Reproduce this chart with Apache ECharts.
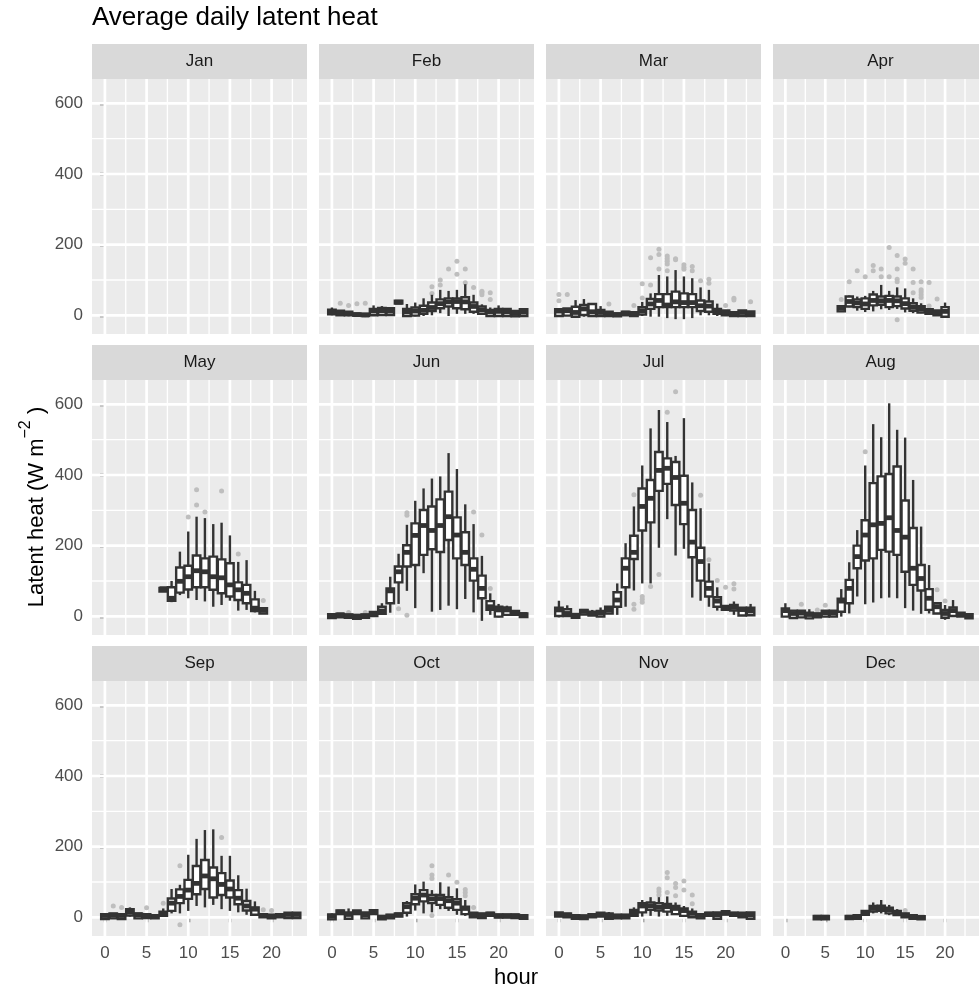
<!DOCTYPE html>
<html>
<head>
<meta charset="utf-8">
<script src="https://cdn.jsdelivr.net/npm/echarts@6/dist/echarts.min.js"></script>
<style>
  html, body { margin: 0; padding: 0; background: #ffffff; }
  #chart { width: 979px; height: 992px; }
</style>
</head>
<body>
<div id="chart"></div>
<script>
// Facet labels, axis breaks
const monthNames = ['Jan', 'Feb', 'Mar', 'Apr', 'May', 'Jun', 'Jul', 'Aug', 'Sep', 'Oct', 'Nov', 'Dec'];
const hourTicks = [0, 5, 10, 15, 20];
const hourMinor = [2.5, 7.5, 12.5, 17.5, 22.5];
const heatTicks = [0, 200, 400, 600];
const heatMinor = [100, 300, 500];

// Hourly box statistics per month: [hour, lower whisker, Q1, median, Q3, upper whisker]
const statsJan = [];
const statsFeb = [
  [0, 0, 3, 10, 16, 22], [1, -2, 0, 6, 13, 14], [2, -3, 0, 5, 10, 12], [3, -4, -1, 2, 5, 6],
  [4, -5, -2, 1, 4, 5], [5, -2, 0, 12, 18, 28], [6, -1, 1, 13, 21, 26], [7, 0, 1, 12, 20, 22],
  [8, 32, 33, 37, 41, 42], [9, -4, -2, 10, 18, 32], [10, -3, -1, 12, 22, 36], [11, -2, 4, 14, 27, 48],
  [12, 0, 12, 22, 36, 58], [13, 6, 20, 33, 45, 72], [14, -2, 25, 38, 48, 69], [15, 4, 20, 39, 48, 72],
  [16, 4, 17, 38, 51, 88], [17, 4, 10, 25, 36, 58], [18, 1, 4, 15, 25, 31], [19, -4, -2, 10, 15, 22],
  [20, -3, -2, 11, 18, 28], [21, -3, -2, 10, 18, 20], [22, -4, -3, 5, 12, 13], [23, -3, -2, 9, 17, 20]
];
const statsMar = [
  [0, -3, -2, 12, 17, 17], [1, -1, -1, 13, 19, 19], [2, -4, -4, 8, 24, 43], [3, -4, 1, 18, 29, 46],
  [4, -2, -2, 10, 32, 32], [5, -2, -2, 8, 15, 26], [6, -3, -2, 5, 10, 10], [7, -4, -3, 2, 5, 5],
  [8, 0, 0, 6, 10, 11], [9, -3, -2, 5, 9, 10], [10, -2, 2, 13, 23, 38], [11, -4, 18, 32, 46, 62],
  [12, -4, 23, 42, 60, 114], [13, -8, 23, 29, 60, 110], [14, -11, 23, 38, 67, 128], [15, -11, 23, 36, 62, 110],
  [16, -8, 23, 36, 60, 105], [17, 0, 12, 27, 42, 79], [18, 0, 10, 26, 39, 72], [19, -2, 4, 12, 18, 33],
  [20, -2, 0, 8, 14, 14], [21, -3, -2, 5, 9, 12], [22, -3, -2, 8, 14, 14], [23, -3, -2, 5, 11, 11]
];
const statsApr = [
  [7, 11, 11, 20, 26, 26], [8, 23, 25, 39, 53, 56], [9, 13, 23, 35, 45, 53], [10, 9, 18, 32, 48, 55],
  [11, 11, 28, 42, 59, 69], [12, 17, 30, 41, 53, 86], [13, 15, 23, 42, 55, 69], [14, 18, 26, 41, 53, 79],
  [15, 8, 19, 33, 48, 76], [16, 6, 13, 23, 34, 48], [17, 6, 8, 18, 26, 34], [18, 2, 4, 12, 17, 17],
  [19, -2, 0, 8, 14, 14], [20, -5, -4, 11, 23, 36]
];
const statsMay = [
  [7, 70, 70, 78, 80, 80], [8, 40, 44, 51, 82, 100], [9, 60, 67, 99, 138, 183], [10, 51, 76, 112, 143, 240],
  [11, 46, 82, 129, 172, 282], [12, 42, 82, 126, 164, 278], [13, 27, 75, 112, 169, 261], [14, 32, 65, 109, 161, 265],
  [15, 44, 56, 89, 150, 229], [16, 16, 46, 75, 96, 154], [17, 18, 37, 65, 89, 159], [18, 11, 15, 23, 48, 72],
  [19, 8, 8, 17, 23, 23]
];
const statsJun = [
  [0, -5, -5, 2, 6, 6], [1, -3, -3, 4, 7, 7], [2, -4, -4, 1, 5, 5], [3, -7, -7, 0, 4, 4],
  [4, -4, -4, 1, 5, 5], [5, 1, 1, 6, 12, 15], [6, 4, 7, 15, 27, 37], [7, 10, 37, 72, 79, 112],
  [8, 35, 96, 126, 141, 177], [9, 72, 141, 181, 201, 259], [10, 23, 145, 229, 263, 327], [11, 122, 174, 257, 301, 362],
  [12, 13, 190, 243, 311, 390], [13, 18, 182, 257, 331, 396], [14, 30, 216, 282, 353, 462], [15, 20, 164, 230, 280, 417],
  [16, 49, 145, 181, 238, 317], [17, 11, 101, 133, 164, 261], [18, -13, 51, 79, 115, 171], [19, 4, 18, 27, 43, 65],
  [20, -3, -1, 18, 27, 35], [21, 4, 4, 18, 25, 30], [22, 4, 4, 10, 15, 15], [23, -2, -2, 5, 8, 8]
];
const statsJul = [
  [0, -3, 1, 18, 24, 44], [1, 1, 1, 8, 20, 31], [2, -4, -4, 3, 6, 6], [3, 5, 5, 14, 18, 18],
  [4, 2, 2, 8, 13, 18], [5, -1, -1, 9, 15, 25], [6, 8, 8, 18, 27, 27], [7, 4, 27, 46, 68, 93],
  [8, 27, 82, 136, 164, 207], [9, 73, 162, 181, 228, 311], [10, 93, 243, 311, 362, 427], [11, 93, 266, 334, 386, 532],
  [12, 194, 355, 413, 465, 584], [13, 275, 375, 419, 447, 550], [14, 172, 315, 393, 437, 454], [15, 191, 261, 320, 398, 561],
  [16, 53, 167, 210, 301, 379], [17, 44, 101, 155, 194, 306], [18, 27, 56, 79, 98, 150], [19, 16, 27, 43, 54, 82],
  [20, 18, 18, 24, 29, 29], [21, 4, 16, 25, 32, 42], [22, 2, 2, 19, 24, 24], [23, 3, 3, 15, 24, 35]
];
const statsAug = [
  [0, -1, -1, 16, 22, 37], [1, -5, -5, 8, 16, 16], [2, -3, -3, 9, 16, 16], [3, -6, -6, 5, 10, 20],
  [4, -3, -3, 4, 8, 8], [5, -1, -1, 10, 16, 16], [6, -1, -1, 9, 16, 16], [7, -1, 13, 43, 50, 77],
  [8, 8, 37, 79, 103, 153], [9, 56, 136, 169, 200, 244], [10, 34, 158, 230, 272, 427], [11, 39, 164, 259, 377, 544],
  [12, 51, 188, 263, 396, 507], [13, 53, 183, 279, 403, 603], [14, 51, 174, 243, 424, 528], [15, 23, 126, 224, 328, 506],
  [16, 16, 89, 136, 250, 386], [17, 7, 73, 107, 145, 254], [18, 8, 18, 51, 77, 145], [19, 8, 8, 27, 37, 37],
  [20, -10, -4, 8, 18, 32], [21, 1, 1, 16, 25, 46], [22, -1, -1, 5, 10, 10], [23, -6, -6, 2, 6, 6]
];
const statsSep = [
  [0, -5, -5, 5, 9, 9], [1, -3, -3, 6, 11, 11], [2, -5, -5, 5, 9, 9], [3, 2, 5, 15, 23, 28],
  [4, -3, -3, 7, 11, 11], [5, -2, -2, 5, 9, 9], [6, -3, -3, 2, 6, 6], [7, 4, 4, 9, 16, 25],
  [8, 11, 18, 40, 53, 80], [9, 11, 40, 59, 79, 92], [10, 18, 52, 77, 106, 177], [11, 32, 65, 96, 145, 222],
  [12, 28, 80, 117, 162, 247], [13, 35, 56, 109, 141, 249], [14, 23, 63, 93, 125, 174], [15, 18, 56, 80, 104, 174],
  [16, 14, 37, 54, 77, 119], [17, 7, 19, 32, 46, 81], [18, 7, 7, 23, 28, 45], [19, 0, 0, 5, 9, 9],
  [20, -3, -3, 3, 7, 7], [21, 0, 0, 5, 9, 9], [22, -2, -2, 8, 13, 13], [23, -2, -2, 8, 13, 13]
];
const statsOct = [
  [0, -6, -6, 3, 8, 11], [1, 9, 9, 15, 19, 19], [2, -4, -4, 8, 14, 25], [3, 9, 9, 14, 19, 19],
  [4, -3, -3, 7, 14, 14], [5, 9, 9, 15, 20, 20], [6, -6, -6, 0, 4, 4], [7, -3, -3, 3, 7, 7],
  [8, 2, 2, 7, 11, 11], [9, 2, 13, 30, 40, 46], [10, 19, 37, 54, 65, 93], [11, 11, 45, 63, 77, 101],
  [12, 14, 40, 52, 63, 77], [13, 23, 35, 53, 63, 99], [14, 18, 27, 47, 57, 87], [15, 7, 21, 40, 51, 82],
  [16, 4, 9, 25, 30, 49], [17, 0, 0, 8, 13, 13], [18, -2, -2, 6, 11, 11], [19, 4, 4, 9, 13, 13],
  [20, -1, -1, 4, 8, 8], [21, -1, -1, 4, 8, 8], [22, -2, -2, 4, 8, 8], [23, -4, -4, 2, 6, 6]
];
const statsNov = [
  [0, 2, 2, 8, 14, 14], [1, 0, 0, 6, 11, 11], [2, -4, -4, 2, 6, 6], [3, -5, -5, 1, 5, 5],
  [4, 0, 0, 5, 9, 9], [5, 2, 2, 8, 13, 13], [6, -4, -4, 4, 11, 15], [7, -3, -3, 3, 7, 7],
  [8, -3, -3, 3, 7, 7], [9, 4, 4, 13, 21, 28], [10, 2, 14, 32, 40, 49], [11, 4, 21, 32, 42, 57],
  [12, 2, 19, 29, 40, 57], [13, 4, 16, 30, 38, 59], [14, 7, 9, 25, 32, 42], [15, 2, 4, 19, 25, 32],
  [16, 0, 0, 11, 16, 25], [17, -3, -3, 5, 9, 9], [18, 4, 4, 9, 13, 13], [19, -4, -4, 7, 14, 14],
  [20, 8, 8, 12, 17, 17], [21, 4, 4, 9, 13, 13], [22, 0, 0, 8, 13, 13], [23, -4, -4, 7, 14, 14]
];
const statsDec = [
  [4, -6, -6, 0, 4, 4], [5, -6, -6, 0, 4, 4], [8, -5, -5, 0, 4, 4], [9, -4, -4, 2, 6, 6],
  [10, 7, 7, 12, 18, 18], [11, 11, 16, 25, 32, 42], [12, 11, 18, 27, 33, 49], [13, 6, 11, 21, 27, 35],
  [14, 6, 6, 12, 18, 23], [15, 0, 0, 6, 11, 11], [16, -4, -4, 2, 6, 6], [17, -6, -6, 0, 3, 3]
];

// Outlying hourly values per month: [hour, value]
const outJan = [];
const outFeb = [
  [1, 34], [2, 28], [3, 33], [4, 34], [12, 81], [12, 62], [13, 100], [13, 86], [14, 131],
  [15, 153], [15, 116], [16, 131], [16, 92], [17, 79], [18, 68], [18, 64], [18, 58], [19, 64], [19, 45]
];
const outMar = [
  [0, 59], [0, 41], [1, 59], [6, 32], [9, 28], [10, 89], [10, 49], [11, 163], [11, 86],
  [12, 187], [12, 172], [12, 131], [13, 168], [13, 160], [13, 153], [13, 145], [13, 126],
  [14, 160], [14, 157], [15, 143], [15, 136], [15, 130], [16, 138], [16, 126], [17, 98],
  [18, 102], [18, 91], [20, 28], [21, 48], [21, 43], [23, 38]
];
const outApr = [
  [7, 45], [8, 95], [9, 126], [10, 109], [11, 141], [11, 126], [12, 131], [12, 109], [13, 192], [13, 109],
  [14, 169], [14, 131], [14, 102], [14, 95], [14, -13], [15, 159], [15, 147], [16, 131], [16, 93], [16, 64],
  [17, 95], [17, 72], [17, 66], [17, 58], [17, 50], [18, 93], [18, 26], [19, 46]
];
const outMay = [[10, 281], [11, 358], [11, 315], [12, 295], [14, 355], [16, 176], [19, 45]];
const outJun = [[2, 11], [4, 11], [8, 21], [9, 293], [9, 286], [9, 3], [17, 295], [18, 230], [19, 79]];
const outJul = [
  [9, 344], [9, 34], [9, 20], [10, 56], [10, 48], [10, 40], [11, 84], [12, 118], [13, 578], [14, 636],
  [17, 343], [18, 160], [19, 101], [20, 82], [21, 92], [21, 77]
];
const outAug = [[2, 34], [4, 18], [5, 31], [10, 466], [19, 75], [20, 43]];
const outSep = [[1, 32], [2, 28], [5, 27], [7, 40], [9, 146], [9, -21], [14, 226], [19, 21], [20, 19]];
const outOct = [[12, 146], [12, 120], [12, 110], [12, 5], [14, 120], [15, 99], [16, 79], [16, 70], [16, 61], [17, 28]];
const outNov = [
  [12, 80], [12, 72], [12, 63], [13, 127], [13, 112], [13, 70], [14, 96], [14, 84], [14, 61],
  [15, 103], [15, 77], [16, 63], [16, 38]
];
const outDec = [[15, 19]];

const monthStats = [statsJan, statsFeb, statsMar, statsApr, statsMay, statsJun,
                    statsJul, statsAug, statsSep, statsOct, statsNov, statsDec];
const monthOutliers = [outJan, outFeb, outMar, outApr, outMay, outJun,
                       outJul, outAug, outSep, outOct, outNov, outDec];

// Panel geometry (4 columns x 3 rows)
const COL_LEFT = [92, 319, 546, 773];
const ROW_TOP = [79, 380, 681];
const PANEL_W = 215;
const PANEL_H = 255;
const STRIP_H = 35;
const X_RANGE = [-1.55, 24.25];
const Y_RANGE = [-53, 669];

const FONT = '"Liberation Sans", Arial, Helvetica, sans-serif';
const INK = '#333333';
const BOX_LW = 2.4;
const BOX_WIDTH = 0.9;

// Background grid lines: [orientation (0 vertical, 1 horizontal), value, major?]
const gridLineData = [];
hourMinor.forEach(v => gridLineData.push([0, v, 0]));
heatMinor.forEach(v => gridLineData.push([1, v, 0]));
hourTicks.forEach(v => gridLineData.push([0, v, 1]));
heatTicks.forEach(v => gridLineData.push([1, v, 1]));

function renderGridLine(params, api) {
  const cs = params.coordSys;
  const vertical = api.value(0) === 0;
  const lw = api.value(2) === 1 ? 2.7 : 1.35;
  if (vertical) {
    const x = api.coord([api.value(1), 0])[0];
    return { type: 'line', shape: { x1: x, y1: cs.y, x2: x, y2: cs.y + cs.height },
             style: { stroke: '#ffffff', lineWidth: lw } };
  }
  const y = api.coord([0, api.value(1)])[1];
  return { type: 'line', shape: { x1: cs.x, y1: y, x2: cs.x + cs.width, y2: y },
           style: { stroke: '#ffffff', lineWidth: lw } };
}

function renderBox(params, api) {
  const h = api.value(0);
  const lo = api.coord([h, api.value(1)]);
  const q1 = api.coord([h, api.value(2)]);
  const md = api.coord([h, api.value(3)]);
  const q3 = api.coord([h, api.value(4)]);
  const hi = api.coord([h, api.value(5)]);
  const w = api.size([BOX_WIDTH, 0])[0];
  const cx = lo[0];
  const x0 = cx - w / 2;
  const lineStyle = { stroke: INK, lineWidth: BOX_LW, fill: null };
  return {
    type: 'group',
    children: [
      { type: 'line', shape: { x1: cx, y1: hi[1], x2: cx, y2: q3[1] }, style: lineStyle },
      { type: 'line', shape: { x1: cx, y1: q1[1], x2: cx, y2: lo[1] }, style: lineStyle },
      { type: 'rect', shape: { x: x0, y: q3[1], width: w, height: q1[1] - q3[1] },
        style: { fill: '#ffffff', stroke: INK, lineWidth: BOX_LW } },
      { type: 'line', shape: { x1: x0, y1: md[1], x2: x0 + w, y2: md[1] },
        style: { stroke: INK, lineWidth: BOX_LW * 2 } }
    ]
  };
}

const grids = [], xAxes = [], yAxes = [], series = [], graphics = [];

monthNames.forEach((name, i) => {
  const col = i % 4, row = Math.floor(i / 4);
  const panelLeft = COL_LEFT[col], panelTop = ROW_TOP[row];
  grids.push({ left: panelLeft, top: panelTop, width: PANEL_W, height: PANEL_H,
               show: true, backgroundColor: '#EBEBEB', borderWidth: 0 });
  xAxes.push({
    gridIndex: i, type: 'value', min: X_RANGE[0], max: X_RANGE[1],
    axisLine: { show: false }, splitLine: { show: false },
    axisTick: { show: row === 2, customValues: hourTicks, length: 5,
                lineStyle: { color: INK, width: 2.4 } },
    axisLabel: { show: row === 2, customValues: hourTicks, margin: 9,
                 color: '#4D4D4D', fontSize: 17, fontFamily: FONT }
  });
  yAxes.push({
    gridIndex: i, type: 'value', min: Y_RANGE[0], max: Y_RANGE[1],
    axisLine: { show: false }, splitLine: { show: false },
    axisTick: { show: col === 0, customValues: heatTicks, length: 5,
                lineStyle: { color: INK, width: 2.4 } },
    axisLabel: { show: col === 0, customValues: heatTicks, margin: 9,
                 color: '#4D4D4D', fontSize: 17, fontFamily: FONT }
  });
  series.push({
    type: 'custom', name: name + ' grid', xAxisIndex: i, yAxisIndex: i, z: 1, silent: true,
    renderItem: renderGridLine, data: gridLineData
  });
  series.push({
    type: 'scatter', name: name + ' outliers', xAxisIndex: i, yAxisIndex: i, z: 2, silent: true,
    symbolSize: 5, itemStyle: { color: '#BEBEBE', opacity: 1 }, data: monthOutliers[i]
  });
  series.push({
    type: 'custom', name: name, xAxisIndex: i, yAxisIndex: i, z: 3, silent: true,
    renderItem: renderBox, encode: { x: 0, y: [1, 2, 3, 4, 5] }, data: monthStats[i]
  });
  // facet strip
  graphics.push({
    type: 'rect', left: panelLeft, top: panelTop - STRIP_H, silent: true,
    shape: { width: PANEL_W, height: STRIP_H }, style: { fill: '#D9D9D9' }
  });
  graphics.push({
    type: 'text', x: panelLeft + PANEL_W / 2, y: panelTop - STRIP_H / 2, silent: true,
    style: { text: name, fill: '#1A1A1A', fontSize: 17, fontFamily: FONT,
             align: 'center', verticalAlign: 'middle' }
  });
});

// Titles
graphics.push({
  type: 'text', x: 92, y: 18, silent: true,
  style: { text: 'Average daily latent heat', fill: '#000000', fontSize: 26, fontFamily: FONT,
           align: 'left', verticalAlign: 'middle' }
});
graphics.push({
  type: 'text', x: 516, y: 978, silent: true,
  style: { text: 'hour', fill: '#000000', fontSize: 22, fontFamily: FONT,
           align: 'center', verticalAlign: 'middle' }
});
graphics.push({
  type: 'text', x: 33, y: 507, rotation: Math.PI / 2, silent: true,
  style: {
    text: '{a|Latent heat (W m}{s|\u22122}{a| )}',
    align: 'center', verticalAlign: 'middle', fontFamily: FONT,
    rich: {
      a: { fontSize: 22, lineHeight: 30, fill: '#000000', fontFamily: FONT, verticalAlign: 'bottom' },
      s: { fontSize: 16, lineHeight: 16, fill: '#000000', fontFamily: FONT, verticalAlign: 'top' }
    }
  }
});

const chart = echarts.init(document.getElementById('chart'), null, { renderer: 'canvas' });
chart.setOption({
  backgroundColor: '#ffffff',
  animation: false,
  grid: grids,
  xAxis: xAxes,
  yAxis: yAxes,
  series: series,
  graphic: graphics
});
</script>
</body>
</html>
